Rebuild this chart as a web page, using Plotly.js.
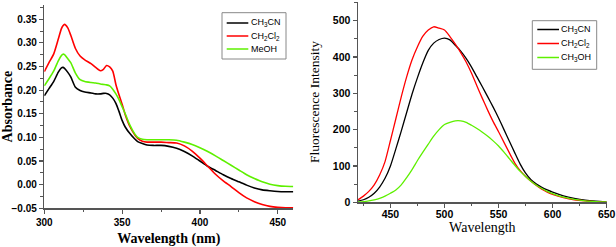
<!DOCTYPE html>
<html>
<head>
<meta charset="utf-8">
<script src="https://cdn.plot.ly/plotly-3.0.1.min.js"></script>
<style>html,body{margin:0;padding:0;background:#fff;}#chart{width:616px;height:247px;}</style>
</head>
<body>
<div id="chart"></div>
<script>
// ---------- Absorption data ----------
const absWavelength = [300,303,306,309,311,312,313,315,317,320,323,326,330,333,336,338,340,342,344,346,348,350,352,355,358,360,363,366,370,375,380,385,390,395,400,405,410,415,420,425,430,435,440,445,450,455,460];
const absCH3CN = [0.188,0.203,0.218,0.238,0.247,0.248,0.246,0.238,0.228,0.206,0.199,0.196,0.194,0.192,0.192,0.193,0.193,0.190,0.183,0.172,0.155,0.136,0.122,0.108,0.097,0.091,0.087,0.084,0.083,0.083,0.081,0.077,0.070,0.061,0.050,0.039,0.030,0.021,0.013,0.006,-0.001,-0.007,-0.011,-0.013,-0.0145,-0.015,-0.015];
const absCH2Cl2 = [0.239,0.258,0.276,0.308,0.330,0.336,0.339,0.332,0.316,0.288,0.272,0.264,0.256,0.248,0.241,0.244,0.252,0.249,0.240,0.212,0.190,0.170,0.148,0.123,0.106,0.098,0.092,0.090,0.090,0.090,0.089,0.088,0.082,0.071,0.056,0.039,0.022,0.008,-0.004,-0.017,-0.028,-0.036,-0.042,-0.046,-0.048,-0.049,-0.049];
const absMeOH = [0.209,0.224,0.240,0.262,0.273,0.276,0.275,0.267,0.258,0.236,0.222,0.218,0.216,0.215,0.213,0.212,0.211,0.209,0.202,0.192,0.180,0.165,0.150,0.126,0.108,0.100,0.096,0.095,0.095,0.095,0.095,0.094,0.090,0.085,0.078,0.070,0.061,0.051,0.041,0.031,0.021,0.013,0.006,0.001,-0.002,-0.0035,-0.004];
const absNames = ['CH<sub>3</sub>CN','CH<sub>2</sub>Cl<sub>2</sub>','MeOH'];

// ---------- Fluorescence data ----------
const flWavelength = [420,425,430,435,440,445,450,455,460,465,470,475,480,485,490,495,500,505,510,515,520,525,530,535,540,545,550,555,560,565,570,575,580,585,590,595,600,610,620,630,640,650];
const flCH3CN = [3,7,14,25,42,66,100,147,196,247,298,343,384,418,438,448,452,447,432,416,396,372,345,318,290,262,232,200,168,136,105,80,62,50,41,34,28,18,11,6,3,1];
const flCH2Cl2 = [7,17,30,48,75,112,170,230,290,345,392,428,457,474,483,479,474,456,435,412,386,355,320,286,253,222,194,165,136,108,87,71,58,46,36,28,22,13,7,4,2,0.5];
const flCH3OH = [1,2,4,7,11,17,25,34,48,68,90,115,138,160,182,200,214,220,224,224,220,212,203,193,182,169,155,138,120,102,85,71,58,47,38,30,24,14,8,4,2,1];
const flNames = ['CH<sub>3</sub>CN','CH<sub>2</sub>Cl<sub>2</sub>','CH<sub>3</sub>OH'];

const colors = ['#000000','#ff0000','#5ef000'];

const W = 616, H = 247;
const px = x => x / W;
const py = y => 1 - y / H;

const traces = [];
[absCH3CN, absCH2Cl2, absMeOH].forEach((ys, i) => {
  traces.push({x: absWavelength, y: ys, xaxis: 'x', yaxis: 'y', mode: 'lines',
    line: {color: colors[i], width: 1.6, shape: 'spline', smoothing: 0.6}, name: absNames[i], showlegend: false});
});
[flCH3CN, flCH2Cl2, flCH3OH].forEach((ys, i) => {
  traces.push({x: flWavelength, y: ys, xaxis: 'x2', yaxis: 'y2', mode: 'lines',
    line: {color: colors[i], width: 1.3, shape: 'spline', smoothing: 0.6}, name: flNames[i], showlegend: false});
});

const tickFont = {family: 'Liberation Sans, Arial, sans-serif', size: 10, color: '#000'};
const axBase = {
  showgrid: false, zeroline: false, showline: true, linecolor: '#555', linewidth: 1.5,
  ticks: 'outside', ticklen: 4, tickwidth: 1.2, tickcolor: '#555',
  tickfont: Object.assign({}, tickFont, {weight: 'bold'}),
  mirror: false, automargin: false
};

const layout = {
  width: W, height: H,
  margin: {l: 0, r: 0, t: 0, b: 0},
  paper_bgcolor: '#fff', plot_bgcolor: '#fff',
  showlegend: false,
  xaxis: Object.assign({}, axBase, {
    domain: [px(44.3), px(293.3)], range: [300, 460], dtick: 50, tick0: 300, anchor: 'y',
    minor: {dtick: 25, ticklen: 2.5, tickwidth: 1, tickcolor: '#555', ticks: 'outside'},
    title: {text: 'Wavelength (nm)', font: {family: 'Liberation Serif, Times New Roman, serif', size: 14, weight: 'bold', color: '#000'}, standoff: 6}
  }),
  yaxis: Object.assign({}, axBase, {
    domain: [py(208.3), py(5)], range: [-0.05, 0.38], dtick: 0.05, tick0: -0.05, tickformat: '.2f', anchor: 'x',
    minor: {dtick: 0.025, ticklen: 2.5, tickwidth: 1, tickcolor: '#555', ticks: 'outside'},
    title: {text: 'Absorbance', font: {family: 'Liberation Serif, Times New Roman, serif', size: 14, weight: 'bold', color: '#000'}, standoff: 2}
  }),
  xaxis2: Object.assign({}, axBase, {
    domain: [px(358), px(606.7)], range: [420, 650], dtick: 50, tick0: 450, anchor: 'y2',
    ticklabelstandoff: -2,
    tickfont: Object.assign({}, tickFont, {size: 10.5, weight: 'bold'}),
    minor: {dtick: 25, ticklen: 2.5, tickwidth: 1, tickcolor: '#555', ticks: 'outside'},
    title: {text: 'Wavelength', font: {family: 'Liberation Serif, Times New Roman, serif', size: 14, color: '#000'}, standoff: 0}
  }),
  yaxis2: Object.assign({}, axBase, {
    domain: [py(202.3), py(1.7)], range: [0, 552], dtick: 100, tick0: 0, anchor: 'x2',
    tickfont: Object.assign({}, tickFont, {size: 10.5, weight: 'bold'}),
    minor: {dtick: 50, ticklen: 2.5, tickwidth: 1, tickcolor: '#555', ticks: 'outside'},
    title: {text: 'Fluorescence Intensity', font: {family: 'Liberation Serif, Times New Roman, serif', size: 13.5, color: '#000'}, standoff: 10}
  }),
  shapes: [],
  annotations: []
};

// custom legends (box, line samples, labels)
function addLegend(box, lineX0, lineX1, textX, rowsY, names) {
  layout.shapes.push({type: 'rect', xref: 'paper', yref: 'paper', x0: px(box[0]), x1: px(box[1]), y0: py(box[3]), y1: py(box[2]),
    line: {color: '#888', width: 1}, fillcolor: 'rgba(255,255,255,1)'});
  rowsY.forEach((y, i) => {
    layout.shapes.push({type: 'line', xref: 'paper', yref: 'paper', x0: px(lineX0), x1: px(lineX1), y0: py(y), y1: py(y),
      line: {color: colors[i], width: 1.5}});
    layout.annotations.push({xref: 'paper', yref: 'paper', x: px(textX), y: py(y), xanchor: 'left', yanchor: 'middle',
      text: names[i], showarrow: false, font: {family: 'Liberation Sans, Arial, sans-serif', size: 9, color: '#000'}});
  });
}
addLegend([222, 286, 12.7, 59], 226.7, 248.3, 249, [23, 36, 49], absNames);
addLegend([532.3, 596.7, 20.7, 69.3], 537.3, 559, 558.5, [29.5, 43.5, 57.5], flNames);

Plotly.newPlot('chart', traces, layout, {displayModeBar: false, staticPlot: true});
</script>
</body>
</html>
